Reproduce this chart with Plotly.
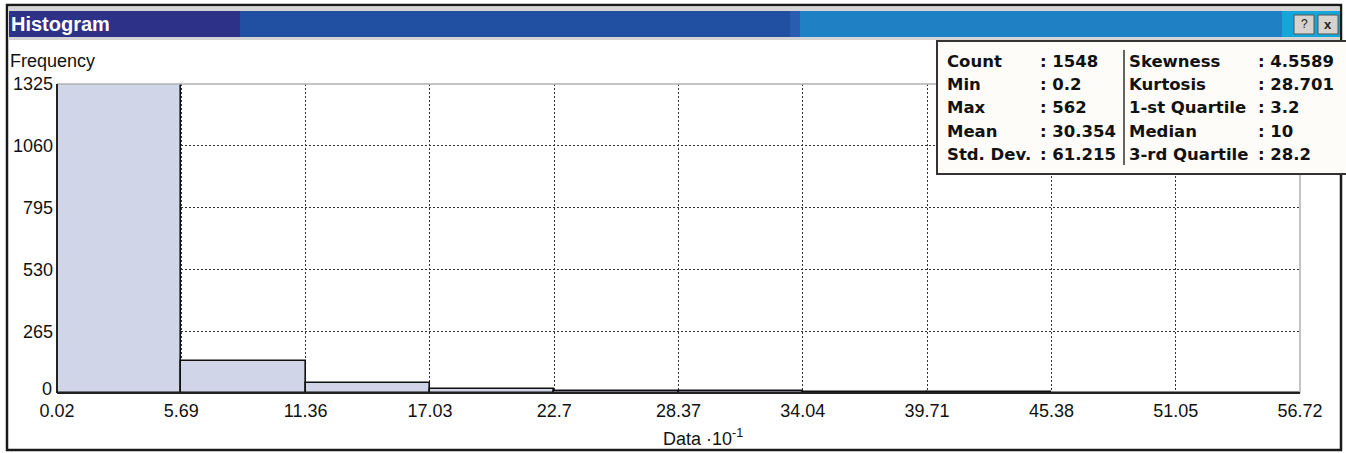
import plotly.graph_objects as go

# Histogram bins: edges (Data x 10^-1) and their counts
bin_edges = [0.02, 5.69, 11.36, 17.03, 22.7, 28.37, 34.04, 39.71, 45.38, 51.05, 56.72]
counts = [1325, 136, 42, 16, 9, 7, 6, 5, 1, 1]

y_ticks = [0, 265, 530, 795, 1060, 1325]
x_tick_labels = ["0.02", "5.69", "11.36", "17.03", "22.7", "28.37",
                 "34.04", "39.71", "45.38", "51.05", "56.72"]

stats_left = [("Count", ": 1548"), ("Min", ": 0.2"), ("Max", ": 562"),
              ("Mean", ": 30.354"), ("Std. Dev.", ": 61.215")]
stats_right = [("Skewness", ": 4.5589"), ("Kurtosis", ": 28.701"),
               ("1-st Quartile", ": 3.2"), ("Median", ": 10"),
               ("3-rd Quartile", ": 28.2")]

W, H = 1346, 453
PL, PR, PT, PB = 57, 1300, 84, 393   # plot area in pixels


def px(x):
    return (x - PL) / (PR - PL)


def py(y):
    return (PB - y) / (PB - PT)


centers = [(a + b) / 2 for a, b in zip(bin_edges[:-1], bin_edges[1:])]
widths = [b - a for a, b in zip(bin_edges[:-1], bin_edges[1:])]

fig = go.Figure()
fig.add_trace(go.Bar(
    x=centers, y=counts, width=widths,
    marker=dict(color="#d0d6e8", line=dict(color="#111111", width=1.6)),
    hoverinfo="skip",
))

tick_font = dict(family="Liberation Sans, Arial, sans-serif", size=18, color="#111111")
grid = dict(showgrid=True, gridcolor="#333333", griddash="2px,2px", gridwidth=1,
            zeroline=False, showline=False, ticks="", fixedrange=True)

fig.update_layout(
    width=W, height=H,
    margin=dict(l=PL, r=W - PR, t=PT, b=H - PB),
    paper_bgcolor="white", plot_bgcolor="white",
    showlegend=False, bargap=0,
    xaxis=dict(range=[bin_edges[0], bin_edges[-1]], tickvals=bin_edges,
               ticktext=x_tick_labels, ticklabelstandoff=5,
               tickfont=tick_font, **grid),
    # the zero label is drawn separately, lifted off the baseline
    yaxis=dict(range=[0, y_ticks[-1]], tickvals=y_ticks[1:],
               ticktext=[str(v) for v in y_ticks[1:]],
               ticklabelstandoff=3, tickfont=tick_font, **grid),
)

shapes = []
# plot frame: light top/right, dark left/bottom
shapes.append(dict(type="line", xref="paper", yref="paper", x0=0, x1=1, y0=1, y1=1,
                   line=dict(color="#b0b0b0", width=1.5), layer="above"))
shapes.append(dict(type="line", xref="paper", yref="paper", x0=1, x1=1, y0=0, y1=1,
                   line=dict(color="#b0b0b0", width=1.5), layer="above"))
shapes.append(dict(type="line", xref="paper", yref="paper", x0=0, x1=0, y0=0, y1=1,
                   line=dict(color="#222222", width=2), layer="above"))
shapes.append(dict(type="line", xref="paper", yref="paper", x0=0, x1=1, y0=0, y1=0,
                   line=dict(color="#222222", width=2), layer="above"))

# window frame
shapes.append(dict(type="rect", xref="paper", yref="paper",
                   x0=px(7), x1=px(1341), y0=py(450), y1=py(5),
                   line=dict(color="#1a1a1a", width=2.5), fillcolor="rgba(0,0,0,0)",
                   layer="below"))
shapes.append(dict(type="rect", xref="paper", yref="paper",
                   x0=px(8), x1=px(1340), y0=py(40), y1=py(7),
                   line=dict(width=0), fillcolor="#d4d4d4", layer="below"))
# title bar colour bands
bands = [(9, 240, "#2e3188"), (240, 790, "#2150a3"), (790, 800, "#2a5cb0"),
         (800, 1282, "#2080c4"), (1282, 1340, "#14a6d8")]
for x0, x1, col in bands:
    shapes.append(dict(type="rect", xref="paper", yref="paper",
                       x0=px(x0), x1=px(x1), y0=py(37), y1=py(11),
                       line=dict(width=0), fillcolor=col, layer="below"))
# title bar buttons
for x0, x1 in [(1294, 1314), (1318, 1338)]:
    shapes.append(dict(type="rect", xref="paper", yref="paper",
                       x0=px(x0), x1=px(x1), y0=py(34), y1=py(15),
                       line=dict(color="#555555", width=1), fillcolor="#d6d3ce",
                       layer="above"))

# statistics box
shapes.append(dict(type="rect", xref="paper", yref="paper",
                   x0=px(937), x1=px(1352), y0=py(174), y1=py(41),
                   line=dict(color="#333333", width=2), fillcolor="#fdfcf8",
                   layer="above"))
shapes.append(dict(type="line", xref="paper", yref="paper",
                   x0=px(1124), x1=px(1124), y0=py(165), y1=py(50),
                   line=dict(color="#333333", width=1.5), layer="above"))

annotations = []
annotations.append(dict(text="<b>Histogram</b>", xref="paper", yref="paper",
                        x=px(9), y=py(24), xanchor="left", yanchor="middle",
                        showarrow=False,
                        font=dict(family="Liberation Sans, Arial", size=20, color="white")))
annotations.append(dict(text="?", xref="paper", yref="paper", x=px(1304), y=py(24),
                        xanchor="center", yanchor="middle", showarrow=False,
                        font=dict(family="Liberation Sans", size=12, color="#222")))
annotations.append(dict(text="<b>x</b>", xref="paper", yref="paper", x=px(1328), y=py(24),
                        xanchor="center", yanchor="middle", showarrow=False,
                        font=dict(family="Liberation Sans", size=13, color="#222")))
annotations.append(dict(text="Frequency", xref="paper", yref="paper",
                        x=px(8), y=py(61), xanchor="left", yanchor="middle",
                        showarrow=False, font=tick_font))
annotations.append(dict(text=str(y_ticks[0]), xref="paper", yref="y",
                        x=px(54), y=y_ticks[0], xanchor="right", yanchor="middle",
                        yshift=4, showarrow=False, font=tick_font))
annotations.append(dict(text="Data \u00b710<sup>-1</sup>", xref="paper", yref="paper",
                        x=px(703), y=py(437), xanchor="center", yanchor="middle",
                        showarrow=False, font=tick_font))

stat_font = dict(family="DejaVu Sans, Verdana", size=16.5, color="#111111")
row_y = [62, 85, 108, 131, 154]
for (lab, val), (lab2, val2), yy in zip(stats_left, stats_right, row_y):
    for text, xx in [(lab, 945), (val, 1038), (lab2, 1127), (val2, 1256)]:
        annotations.append(dict(text="<b>%s</b>" % text, xref="paper", yref="paper",
                                x=px(xx), y=py(yy), xanchor="left", yanchor="middle",
                                showarrow=False, font=stat_font))

fig.update_layout(shapes=shapes, annotations=annotations)
fig.write_html("out.html")
